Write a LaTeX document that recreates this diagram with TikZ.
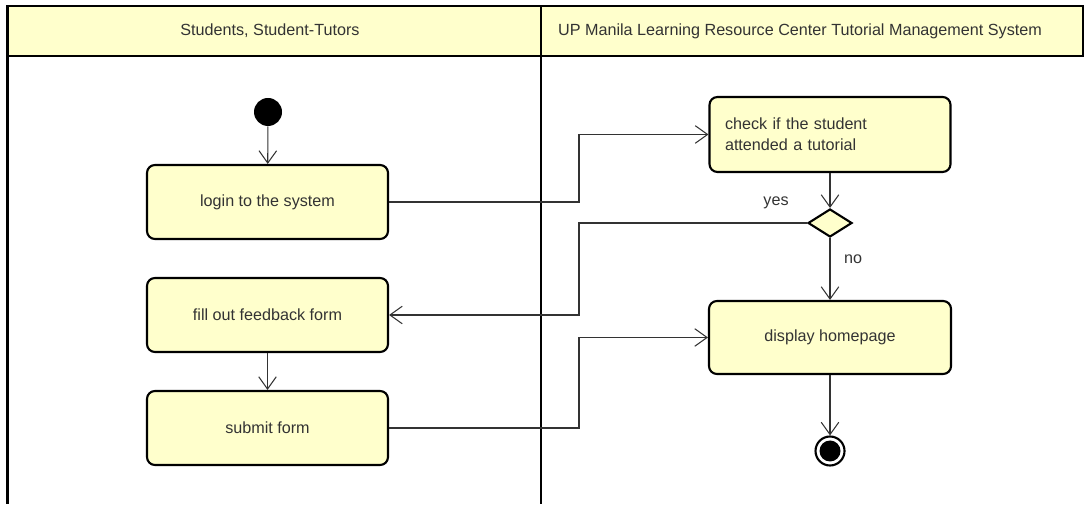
\documentclass[tikz,border=0pt]{standalone}
\usepackage{fontspec}
\setmainfont{Liberation Sans}
\usepackage{tikz}
\usetikzlibrary{arrows.meta,shapes.geometric}
\definecolor{laneyellow}{RGB}{255,255,204}
\definecolor{inkgray}{RGB}{51,51,51}

\begin{document}
\begin{tikzpicture}[font=\fontsize{9.2}{12}\selectfont,
		action/.style={draw, line width=1.2pt, fill=laneyellow, rounded corners=4.5pt,
			minimum width=4.82cm, minimum height=1.48cm, text=inkgray},
		flow/.style={draw=inkgray, line width=0.6pt, -{Straight Barb[length=7pt,width=10pt]}},
		lbl/.style={text=inkgray, inner sep=1pt}]
				\useasboundingbox (0, 0) rectangle (21.72, 10.08);
				% swimlanes
				\draw[line width=1.4pt, fill=laneyellow] (0.15, 8.96) rectangle (10.82, 9.96);
				\draw[line width=1.4pt, fill=laneyellow] (10.82, 8.96) rectangle (21.66, 9.96);
				\draw[line width=1.4pt] (0.15, 8.96) -- (0.15, 0);
				\draw[line width=1.4pt] (10.82, 8.96) -- (10.82, 0);
				\node[lbl] (laneA) at (5.4, 9.46) {Students, Student-Tutors};
				\node[lbl] (laneB) at (16.0, 9.46) {UP Manila Learning Resource Center Tutorial Management System};
				% students
				\node[circle, fill=black, minimum size=0.56cm, inner sep=0] (init) at (5.36, 7.84) {};
				\node[action] (login) at (5.35, 6.04) {login to the system};
				\node[action] (fill) at (5.35, 3.78) {fill out feedback form};
				\node[action] (submit) at (5.35, 1.52) {submit form};
				% system
				\node[action, align=left, text width=4.2cm, inner xsep=0.3cm, minimum height=1.5cm] (check) at (16.6, 7.39)
					{check if the student\\attended a tutorial};
				\node[diamond, draw, line width=1.2pt, fill=laneyellow, minimum width=0.88cm,
					minimum height=0.56cm, inner sep=0] (dec) at (16.6, 5.62) {};
				\node[action, minimum width=4.84cm, minimum height=1.46cm] (display) at (16.6, 3.33) {display homepage};
				\node[circle, draw, line width=1.2pt, fill=white, minimum size=0.58cm, inner sep=0,
					path picture={\fill[black] (path picture bounding box.center) circle (0.21cm);}] (final) at (16.6, 1.06) {};
				\node[lbl] (yes) at (15.52, 6.02) {yes};
				\node[lbl] (no) at (17.06, 4.9) {no};
				\coordinate (route) at (11.58, 0);
				% flows
				\draw[flow] (init) -- (login);
				\draw[flow] (login.east) -- (login.east -| route) |- (check.west);
				\draw[flow] (check) -- (dec);
				\draw[flow] (dec.west) -- (dec.west -| route) |- (fill.east);
				\draw[flow] (dec) -- (display);
				\draw[flow] (fill) -- (submit);
				\draw[flow] (submit.east) -- (submit.east -| route) |- (display.west);
				\draw[flow] (display) -- (final);
			\end{tikzpicture}
\end{document}
